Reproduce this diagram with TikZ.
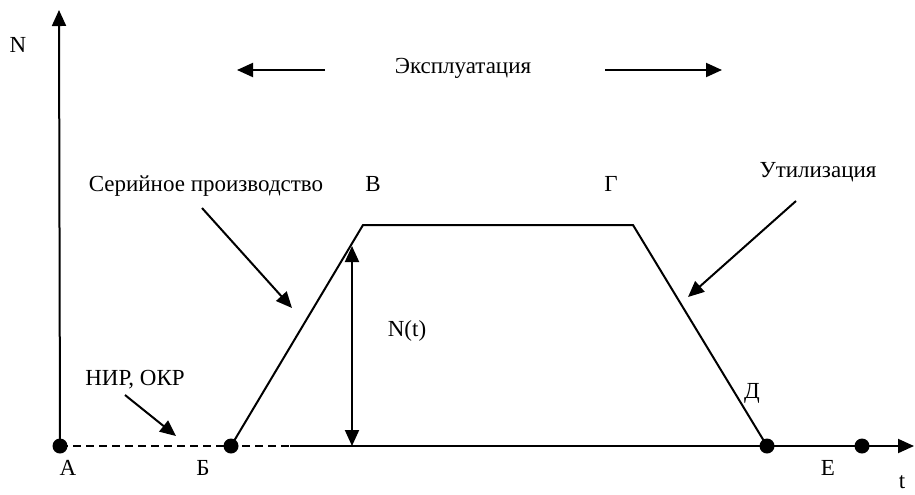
\documentclass[tikz,border=0pt]{standalone}
\usepackage{fontspec}
\setmainfont{Liberation Serif}
\usetikzlibrary{arrows.meta}

\begin{document}
\begin{tikzpicture}[
    x=0.5pt, y=-0.5pt,
    font=\fontsize{11.5pt}{14pt}\selectfont,
    lbl/.style={inner sep=0pt},
    dot/.style={circle, fill=black, inner sep=0pt, minimum size=7.5pt},
    line/.style={draw, line width=1pt},
    arr/.style={draw, line width=1pt, -{Triangle[length=8pt,width=7pt]}},
    dbl/.style={draw, line width=1pt, {Triangle[length=8pt,width=7pt]}-{Triangle[length=8pt,width=7pt]}}
]
\useasboundingbox (0,0) rectangle (915,494);

% Points
\node[dot] (A) at (60,446) {};
\node[dot] (B) at (231,446) {};
\node[dot] (D) at (767,446) {};
\node[dot] (E) at (862,446) {};
\coordinate (V) at (363,225);
\coordinate (G) at (633,225);
\coordinate (ytip) at (59,10);
\coordinate (xdash) at (290,446);
\coordinate (xtip) at (914,446);
\coordinate (nbot) at (352,446);
\coordinate (ntop) at (352,246);

% Labels
\node[lbl] (labN) at (18,45) {N};
\node[lbl] (labA) at (68,468) {А};
\node[lbl] (labB) at (203,468) {Б};
\node[lbl] (labV) at (373,184) {В};
\node[lbl] (labG) at (611,184) {Г};
\node[lbl] (labD) at (752,393) {Д};
\node[lbl] (labE) at (828,468) {Е};
\node[lbl] (labt) at (902,482) {t};
\node[lbl] (labNt) at (407,331) {N(t)};
\node[lbl] (expl) at (463,68) {Эксплуатация};
\node[lbl] (ser) at (206,186) {Серийное производство};
\node[lbl] (util) at (818,172) {Утилизация};
\node[lbl] (nir) at (135,380) {НИР, ОКР};

% Axes
\draw[arr] (A.center) -- (ytip);
\draw[line, dash pattern=on 4pt off 2.5pt] (A.center) -- (xdash);
\draw[arr] (xdash) -- (xtip);

% Curve
\draw[line, line join=miter] (B.center) -- (V) -- (G) -- (D.center);
\draw[dbl] (nbot) -- (ntop);

% Pointers
\coordinate (expL) at (325,70);
\coordinate (expLt) at (237,70);
\coordinate (expR) at (605,70);
\coordinate (expRt) at (722,70);
\draw[arr] (expL) -- (expLt);
\draw[arr] (expR) -- (expRt);
\coordinate (serS) at (202,208);
\coordinate (serT) at (292,308);
\draw[arr] (serS) -- (serT);
\coordinate (utilS) at (796,201);
\coordinate (utilT) at (688,297);
\draw[arr] (utilS) -- (utilT);
\coordinate (nirS) at (125,395);
\coordinate (nirT) at (176,436);
\draw[arr] (nirS) -- (nirT);

\end{tikzpicture}
\end{document}
